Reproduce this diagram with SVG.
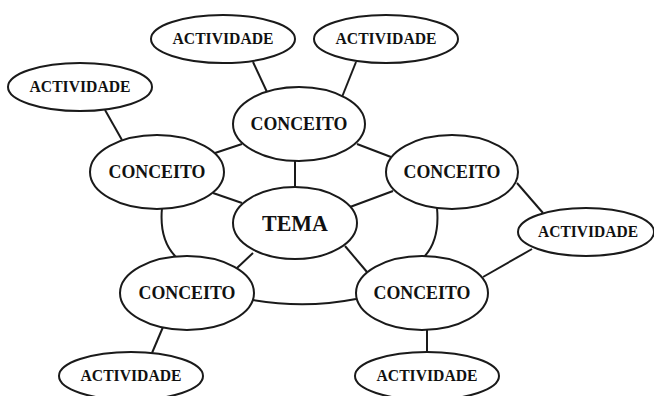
<svg xmlns="http://www.w3.org/2000/svg" width="654" height="396" viewBox="0 0 654 396">
<style>
.n ellipse{fill:#fff;stroke:#1a1a1a;stroke-width:2}
.c path,.c line{fill:none;stroke:#1a1a1a;stroke-width:2}
text{font-family:"Liberation Serif","Times New Roman",serif;font-weight:bold;fill:#111;text-anchor:middle}
.k{font-size:19px}
.a{font-size:17px}
.t{font-size:23px}
</style>
<rect width="654" height="396" fill="#fff"/>
<g id="connectors" class="c">
<line x1="105" y1="110" x2="122" y2="140"/>
<line x1="253" y1="62" x2="267" y2="92"/>
<line x1="356" y1="62" x2="342" y2="97"/>
<line x1="215" y1="153" x2="242" y2="144"/>
<line x1="357" y1="144" x2="391" y2="157"/>
<line x1="213" y1="193" x2="242" y2="203"/>
<line x1="295" y1="161" x2="295" y2="187"/>
<line x1="350" y1="207" x2="393" y2="191"/>
<line x1="253" y1="253" x2="237" y2="268"/>
<line x1="345" y1="246" x2="367" y2="272"/>
<line x1="517" y1="183" x2="543" y2="213"/>
<line x1="483" y1="277" x2="532" y2="249"/>
<line x1="163" y1="327" x2="152" y2="353"/>
<line x1="427" y1="329" x2="427" y2="353"/>
<path d="M162,208 Q159,240 176,257"/>
<path d="M437,208 Q440,240 424,257"/>
<path d="M253,300 Q305,309 356,299"/>
</g>
<g id="act-tl" class="n"><ellipse cx="80" cy="87" rx="72" ry="24"/><text class="a" x="80" y="92" textLength="101" lengthAdjust="spacingAndGlyphs">ACTIVIDADE</text></g>
<g id="act-tm" class="n"><ellipse cx="223" cy="39" rx="72" ry="24"/><text class="a" x="223" y="44" textLength="101" lengthAdjust="spacingAndGlyphs">ACTIVIDADE</text></g>
<g id="act-tr" class="n"><ellipse cx="386" cy="39" rx="72" ry="24"/><text class="a" x="386" y="44" textLength="101" lengthAdjust="spacingAndGlyphs">ACTIVIDADE</text></g>
<g id="act-r" class="n"><ellipse cx="586" cy="232" rx="68" ry="24"/><text class="a" x="588" y="237" textLength="100" lengthAdjust="spacingAndGlyphs">ACTIVIDADE</text></g>
<g id="act-bl" class="n"><ellipse cx="131" cy="376" rx="72" ry="24"/><text class="a" x="131" y="381" textLength="101" lengthAdjust="spacingAndGlyphs">ACTIVIDADE</text></g>
<g id="act-br" class="n"><ellipse cx="427" cy="376" rx="72" ry="24"/><text class="a" x="427" y="381" textLength="101" lengthAdjust="spacingAndGlyphs">ACTIVIDADE</text></g>
<g id="conc-top" class="n"><ellipse cx="299" cy="124" rx="66" ry="37"/><text class="k" x="299" y="130" textLength="97" lengthAdjust="spacingAndGlyphs">CONCEITO</text></g>
<g id="conc-left" class="n"><ellipse cx="157" cy="172" rx="67" ry="37"/><text class="k" x="157" y="178" textLength="97" lengthAdjust="spacingAndGlyphs">CONCEITO</text></g>
<g id="conc-right" class="n"><ellipse cx="452" cy="172" rx="66" ry="37"/><text class="k" x="452" y="178" textLength="97" lengthAdjust="spacingAndGlyphs">CONCEITO</text></g>
<g id="conc-bl" class="n"><ellipse cx="187" cy="293" rx="67" ry="37"/><text class="k" x="187" y="299" textLength="97" lengthAdjust="spacingAndGlyphs">CONCEITO</text></g>
<g id="conc-br" class="n"><ellipse cx="422" cy="293" rx="66" ry="37"/><text class="k" x="422" y="299" textLength="97" lengthAdjust="spacingAndGlyphs">CONCEITO</text></g>
<g id="tema" class="n"><ellipse cx="295" cy="223" rx="62" ry="36"/><text class="t" x="295" y="231" textLength="66" lengthAdjust="spacingAndGlyphs">TEMA</text></g>
</svg>
